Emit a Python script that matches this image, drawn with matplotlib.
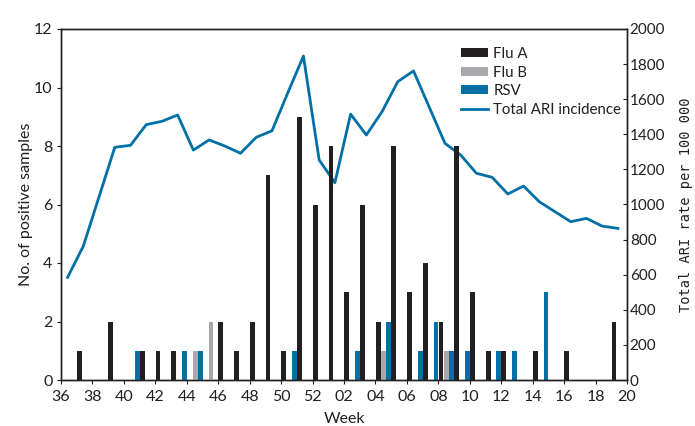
import matplotlib
matplotlib.use("Agg")
import matplotlib.pyplot as plt
import numpy as np
from matplotlib.patches import Patch
from matplotlib.lines import Line2D

plt.rcParams['font.family'] = ['Lato', 'DejaVu Sans']

weeks = ['36', '37', '38', '39', '40', '41', '42', '43', '44', '45', '46', '47', '48', '49', '50',
         '51', '52', '01', '02', '03', '04', '05', '06', '07', '08', '09', '10', '11', '12', '13',
         '14', '15', '16', '17', '18', '19', '20']

flu_a = [0, 1, 0, 2, 0, 1, 1, 1, 0, 0, 2, 1, 2, 7, 1, 9, 6, 8, 3, 6, 2, 8, 3, 4, 2, 8, 3, 1, 1, 0,
         1, 0, 1, 0, 0, 2, 0]
flu_b = [0, 0, 0, 0, 0, 0, 0, 0, 0, 1, 2, 0, 0, 0, 0, 0, 0, 0, 0, 0, 0, 1, 0, 0, 0, 1, 0, 0, 0, 0,
         0, 0, 0, 0, 0, 0, 0]
rsv = [0, 0, 0, 0, 0, 1, 0, 0, 1, 1, 0, 0, 0, 0, 0, 1, 0, 0, 0, 1, 0, 2, 0, 1, 2, 1, 1, 0, 1, 1,
       0, 3, 0, 0, 0, 0, 0]

# Total ARI incidence, weeks 36 .. 19
ari = [585, 763, 1044, 1326, 1337, 1455, 1474, 1510, 1310, 1368, 1333, 1292, 1383, 1420, 1635,
       1846, 1254, 1124, 1515, 1396, 1529, 1700, 1761, 1555, 1349, 1282, 1178, 1155, 1060, 1105,
       1016, 959, 902, 921, 877, 864]

tick_labels = weeks[::2]

c_a = '#231f20'
c_b = '#a7a9ac'
c_r = '#0070a6'

fig = plt.figure(figsize=(6.95, 4.26), dpi=100)
ax1 = fig.add_axes([61/695, 1-380/426, 566/695, 351/426])
ax2 = ax1.twinx()
ax1.set_zorder(ax2.get_zorder() + 1)
ax1.patch.set_visible(False)

idx = np.arange(len(weeks))
w = 0.31
ax1.bar(idx - 0.46, flu_b, width=w, color=c_b, label='Flu B')
ax1.bar(idx - 0.15, rsv, width=w, color=c_r, label='RSV')
ax1.bar(idx + 0.17, flu_a, width=w, color=c_a, label='Flu A')

lidx = np.arange(len(ari))
ax2.plot(lidx + 0.42, ari, color=c_r, lw=2.0)

ax1.set_xlim(0, 36)
ax1.set_ylim(0, 12)
ax2.set_ylim(0, 2000)
ax1.set_xticks(idx[::2])
ax1.set_xticklabels(tick_labels)
ax1.set_yticks(np.arange(0, 13, 2))
ax2.set_yticks(np.arange(0, 2001, 200))

for ax in (ax1, ax2):
    for s in ax.spines.values():
        s.set_color('#231f20')
        s.set_linewidth(1.0)

ax1.tick_params(axis='x', direction='out', length=3, labelsize=11.5, colors='#231f20', pad=4)
ax1.tick_params(axis='y', direction='out', length=3, labelsize=11.5, colors='#231f20', pad=3)
ax2.tick_params(axis='y', direction='in', length=3, labelsize=11, colors='#231f20', pad=2)

ax1.set_ylabel('No. of positive samples', fontsize=11.5, color='#231f20', labelpad=1)
ax1.set_xlabel('Week', fontsize=11.5, color='#231f20', labelpad=6)
ax2.set_ylabel('Total ARI rate per 100 000', fontsize=9.8, color='#231f20',
               family=['DejaVu Sans Mono'], labelpad=10)

handles = [Patch(facecolor=c_a, label='Flu A'),
           Patch(facecolor=c_b, label='Flu B'),
           Patch(facecolor=c_r, label='RSV'),
           Line2D([0], [0], color=c_r, lw=2, label='Total ARI incidence')]
leg = ax1.legend(handles=handles, loc='upper left', bbox_to_anchor=(0.696, 0.965),
                 frameon=False, fontsize=10.8, handlelength=1.8, handleheight=0.55,
                 handletextpad=0.35, labelspacing=0.3, borderaxespad=0)
for t in leg.get_texts():
    t.set_color('#231f20')

fig.savefig('out.png', dpi=100)
